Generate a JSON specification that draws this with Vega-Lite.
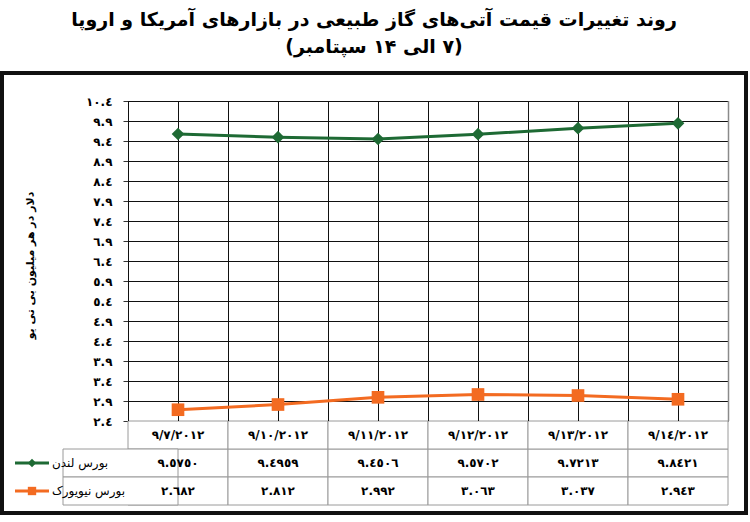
{
  "$schema": "https://vega.github.io/schema/vega-lite/v6.json",
  "width": 744,
  "height": 440,
  "autosize": {"type": "none"},
  "padding": {"left": 2, "top": 73, "right": 4, "bottom": 9},
  "background": "white",
  "view": {"stroke": "#111111", "strokeWidth": 4, "fill": "white"},
  "config": {"font": "DejaVu Sans"},
  "title": {
    "text": ["روند تغییرات قیمت آتی‌های گاز طبیعی در بازارهای آمریکا و اروپا", "\u200F(۷ الی ۱۴ سپتامبر)\u200F"],
    "font": "DejaVu Sans",
    "fontSize": 19,
    "fontWeight": "bold",
    "color": "#000000",
    "anchor": "middle",
    "frame": "group",
    "offset": 16,
    "lineHeight": 27
  },
  "data": {
    "values": [
      {"date": "٩/٧/٢٠١٢", "series": "بورس لندن", "value": 9.575, "label": "٩.٥٧٥٠"},
      {"date": "٩/١٠/٢٠١٢", "series": "بورس لندن", "value": 9.4959, "label": "٩.٤٩٥٩"},
      {"date": "٩/١١/٢٠١٢", "series": "بورس لندن", "value": 9.4506, "label": "٩.٤٥٠٦"},
      {"date": "٩/١٢/٢٠١٢", "series": "بورس لندن", "value": 9.5702, "label": "٩.٥٧٠٢"},
      {"date": "٩/١٣/٢٠١٢", "series": "بورس لندن", "value": 9.7213, "label": "٩.٧٢١٣"},
      {"date": "٩/١٤/٢٠١٢", "series": "بورس لندن", "value": 9.8421, "label": "٩.٨٤٢١"},
      {"date": "٩/٧/٢٠١٢", "series": "بورس نیویورک", "value": 2.682, "label": "٢.٦٨٢"},
      {"date": "٩/١٠/٢٠١٢", "series": "بورس نیویورک", "value": 2.812, "label": "٢.٨١٢"},
      {"date": "٩/١١/٢٠١٢", "series": "بورس نیویورک", "value": 2.992, "label": "٢.٩٩٢"},
      {"date": "٩/١٢/٢٠١٢", "series": "بورس نیویورک", "value": 3.063, "label": "٣.٠٦٣"},
      {"date": "٩/١٣/٢٠١٢", "series": "بورس نیویورک", "value": 3.037, "label": "٣.٠٣٧"},
      {"date": "٩/١٤/٢٠١٢", "series": "بورس نیویورک", "value": 2.943, "label": "٢.٩٤٣"}
    ]
  },
  "resolve": {"scale": {"x": "independent", "y": "independent"}},
  "layer": [
    {
      "mark": {"type": "rect", "fill": "white", "stroke": "#9a9a9a", "strokeWidth": 1},
      "encoding": {
        "x": {"field": "date", "type": "nominal", "axis": null, "scale": {"type": "band", "domain": ["label", "٩/٧/٢٠١٢", "٩/١٠/٢٠١٢", "٩/١١/٢٠١٢", "٩/١٢/٢٠١٢", "٩/١٣/٢٠١٢", "٩/١٤/٢٠١٢"], "range": [26, 726], "paddingInner": 0, "paddingOuter": 0}},
        "y": {"field": "series", "type": "nominal", "axis": null, "scale": {"type": "band", "domain": ["date", "بورس لندن", "بورس نیویورک"], "range": [348, 432], "paddingInner": 0, "paddingOuter": 0}}
      }
    },
    {
      "transform": [{"filter": "datum.series === 'بورس لندن'"}],
      "mark": {"type": "rect", "fill": "white", "stroke": "#9a9a9a", "strokeWidth": 1},
      "encoding": {
        "x": {"field": "date", "type": "nominal", "axis": null, "scale": {"type": "band", "domain": ["label", "٩/٧/٢٠١٢", "٩/١٠/٢٠١٢", "٩/١١/٢٠١٢", "٩/١٢/٢٠١٢", "٩/١٣/٢٠١٢", "٩/١٤/٢٠١٢"], "range": [26, 726], "paddingInner": 0, "paddingOuter": 0}},
        "y": {"datum": "date", "type": "nominal", "axis": null, "scale": {"type": "band", "domain": ["date", "بورس لندن", "بورس نیویورک"], "range": [348, 432], "paddingInner": 0, "paddingOuter": 0}}
      }
    },
    {
      "transform": [{"filter": "datum.date === '٩/٧/٢٠١٢'"}],
      "mark": {"type": "rect", "fill": "white", "stroke": "#9a9a9a", "strokeWidth": 1, "xOffset": -15},
      "encoding": {
        "x": {"datum": "label", "type": "nominal", "axis": null, "scale": {"type": "band", "domain": ["label", "٩/٧/٢٠١٢", "٩/١٠/٢٠١٢", "٩/١١/٢٠١٢", "٩/١٢/٢٠١٢", "٩/١٣/٢٠١٢", "٩/١٤/٢٠١٢"], "range": [26, 726], "paddingInner": 0, "paddingOuter": 0}},
        "x2": {"datum": "٩/٧/٢٠١٢"},
        "y": {"field": "series", "type": "nominal", "axis": null, "scale": {"type": "band", "domain": ["date", "بورس لندن", "بورس نیویورک"], "range": [348, 432], "paddingInner": 0, "paddingOuter": 0}}
      }
    },
    {
      "mark": {"type": "text", "font": "DejaVu Sans", "fontSize": 12, "fontWeight": "bold", "color": "#000000"},
      "encoding": {
        "x": {"field": "date", "type": "nominal", "axis": null, "scale": {"type": "band", "domain": ["label", "٩/٧/٢٠١٢", "٩/١٠/٢٠١٢", "٩/١١/٢٠١٢", "٩/١٢/٢٠١٢", "٩/١٣/٢٠١٢", "٩/١٤/٢٠١٢"], "range": [26, 726], "paddingInner": 0, "paddingOuter": 0}},
        "y": {"field": "series", "type": "nominal", "axis": null, "scale": {"type": "band", "domain": ["date", "بورس لندن", "بورس نیویورک"], "range": [348, 432], "paddingInner": 0, "paddingOuter": 0}},
        "text": {"field": "label"}
      }
    },
    {
      "transform": [{"filter": "datum.series === 'بورس لندن'"}],
      "mark": {"type": "text", "font": "DejaVu Sans", "fontSize": 12, "fontWeight": "bold", "color": "#000000"},
      "encoding": {
        "x": {"field": "date", "type": "nominal", "axis": null, "scale": {"type": "band", "domain": ["label", "٩/٧/٢٠١٢", "٩/١٠/٢٠١٢", "٩/١١/٢٠١٢", "٩/١٢/٢٠١٢", "٩/١٣/٢٠١٢", "٩/١٤/٢٠١٢"], "range": [26, 726], "paddingInner": 0, "paddingOuter": 0}},
        "y": {"datum": "date", "type": "nominal", "axis": null, "scale": {"type": "band", "domain": ["date", "بورس لندن", "بورس نیویورک"], "range": [348, 432], "paddingInner": 0, "paddingOuter": 0}},
        "text": {"field": "date"}
      }
    },
    {
      "transform": [{"filter": "datum.date === '٩/٧/٢٠١٢'"}],
      "mark": {"type": "text", "font": "DejaVu Sans", "fontSize": 12, "color": "#000000", "align": "left", "dx": -26},
      "encoding": {
        "x": {"datum": "label", "type": "nominal", "axis": null, "scale": {"type": "band", "domain": ["label", "٩/٧/٢٠١٢", "٩/١٠/٢٠١٢", "٩/١١/٢٠١٢", "٩/١٢/٢٠١٢", "٩/١٣/٢٠١٢", "٩/١٤/٢٠١٢"], "range": [26, 726], "paddingInner": 0, "paddingOuter": 0}},
        "y": {"field": "series", "type": "nominal", "axis": null, "scale": {"type": "band", "domain": ["date", "بورس لندن", "بورس نیویورک"], "range": [348, 432], "paddingInner": 0, "paddingOuter": 0}},
        "text": {"field": "series"}
      }
    },
    {
      "transform": [{"filter": "datum.date === '٩/٧/٢٠١٢'"}],
      "mark": {"type": "rule", "strokeWidth": 3, "xOffset": -63, "x2Offset": -29},
      "encoding": {
        "x": {"datum": "label", "type": "nominal", "axis": null, "scale": {"type": "band", "domain": ["label", "٩/٧/٢٠١٢", "٩/١٠/٢٠١٢", "٩/١١/٢٠١٢", "٩/١٢/٢٠١٢", "٩/١٣/٢٠١٢", "٩/١٤/٢٠١٢"], "range": [26, 726], "paddingInner": 0, "paddingOuter": 0}},
        "x2": {"datum": "label"},
        "y": {"field": "series", "type": "nominal", "axis": null, "scale": {"type": "band", "domain": ["date", "بورس لندن", "بورس نیویورک"], "range": [348, 432], "paddingInner": 0, "paddingOuter": 0}},
        "color": {"field": "series", "type": "nominal", "legend": null, "scale": {"domain": ["بورس لندن", "بورس نیویورک"], "range": ["#1e6a34", "#f36b21"]}}
      }
    },
    {
      "transform": [{"filter": "datum.date === '٩/٧/٢٠١٢'"}],
      "mark": {"type": "point", "filled": true, "opacity": 1, "size": 70, "xOffset": -46},
      "encoding": {
        "x": {"datum": "label", "type": "nominal", "axis": null, "scale": {"type": "band", "domain": ["label", "٩/٧/٢٠١٢", "٩/١٠/٢٠١٢", "٩/١١/٢٠١٢", "٩/١٢/٢٠١٢", "٩/١٣/٢٠١٢", "٩/١٤/٢٠١٢"], "range": [26, 726], "paddingInner": 0, "paddingOuter": 0}},
        "y": {"field": "series", "type": "nominal", "axis": null, "scale": {"type": "band", "domain": ["date", "بورس لندن", "بورس نیویورک"], "range": [348, 432], "paddingInner": 0, "paddingOuter": 0}},
        "color": {"field": "series", "type": "nominal", "legend": null, "scale": {"domain": ["بورس لندن", "بورس نیویورک"], "range": ["#1e6a34", "#f36b21"]}},
        "shape": {"field": "series", "type": "nominal", "legend": null, "scale": {"domain": ["بورس لندن", "بورس نیویورک"], "range": ["diamond", "square"]}}
      }
    },
    {
      "transform": [{"filter": "datum.series === 'بورس لندن'"}],
      "mark": {"type": "rule", "color": "#111111", "strokeWidth": 1, "xOffset": 0.5},
      "encoding": {
        "x": {"field": "date", "type": "nominal", "axis": null, "scale": {"type": "band", "domain": ["٩/٧/٢٠١٢", "٩/١٠/٢٠١٢", "٩/١١/٢٠١٢", "٩/١٢/٢٠١٢", "٩/١٣/٢٠١٢", "٩/١٤/٢٠١٢"], "range": [126, 726], "paddingInner": 0, "paddingOuter": 0}},
        "y": {"datum": 2.4, "type": "quantitative", "axis": null, "scale": {"domain": [2.4, 10.4], "range": [348, 28], "nice": false, "zero": false}},
        "y2": {"datum": 10.4}
      }
    },
    {
      "transform": [{"filter": "datum.series === 'بورس لندن'"}],
      "mark": {"type": "rule", "color": "#111111", "strokeWidth": 1, "xOffset": -49.5},
      "encoding": {
        "x": {"field": "date", "type": "nominal", "axis": null, "scale": {"type": "band", "domain": ["٩/٧/٢٠١٢", "٩/١٠/٢٠١٢", "٩/١١/٢٠١٢", "٩/١٢/٢٠١٢", "٩/١٣/٢٠١٢", "٩/١٤/٢٠١٢"], "range": [126, 726], "paddingInner": 0, "paddingOuter": 0}},
        "y": {"datum": 2.4, "type": "quantitative", "axis": null, "scale": {"domain": [2.4, 10.4], "range": [348, 28], "nice": false, "zero": false}},
        "y2": {"datum": 10.4}
      }
    },
    {
      "transform": [{"filter": "datum.series === 'بورس لندن' && datum.date === '٩/١٤/٢٠١٢'"}],
      "mark": {"type": "rule", "color": "#8a8a8a", "strokeWidth": 1.5, "xOffset": 50.5},
      "encoding": {
        "x": {"field": "date", "type": "nominal", "axis": null, "scale": {"type": "band", "domain": ["٩/٧/٢٠١٢", "٩/١٠/٢٠١٢", "٩/١١/٢٠١٢", "٩/١٢/٢٠١٢", "٩/١٣/٢٠١٢", "٩/١٤/٢٠١٢"], "range": [126, 726], "paddingInner": 0, "paddingOuter": 0}},
        "y": {"datum": 2.4, "type": "quantitative", "axis": null, "scale": {"domain": [2.4, 10.4], "range": [348, 28], "nice": false, "zero": false}},
        "y2": {"datum": 10.4}
      }
    },
    {
      "mark": {"type": "line", "strokeWidth": 3},
      "encoding": {
        "x": {"field": "date", "type": "nominal", "axis": null, "scale": {"type": "band", "domain": ["٩/٧/٢٠١٢", "٩/١٠/٢٠١٢", "٩/١١/٢٠١٢", "٩/١٢/٢٠١٢", "٩/١٣/٢٠١٢", "٩/١٤/٢٠١٢"], "range": [126, 726], "paddingInner": 0, "paddingOuter": 0}},
        "y": {"field": "value", "type": "quantitative", "scale": {"domain": [2.4, 10.4], "range": [348, 28], "nice": false, "zero": false},
          "axis": {"orient": "left", "offset": -126, "values": [2.4, 2.9, 3.4, 3.9, 4.4, 4.9, 5.4, 5.9, 6.4, 6.9, 7.4, 7.9, 8.4, 8.9, 9.4, 9.9, 10.4], "format": ".1f",
            "labelExpr": "replace(replace(replace(replace(replace(replace(replace(replace(replace(replace(datum.label,regexp('0','g'),'٠'),regexp('1','g'),'١'),regexp('2','g'),'٢'),regexp('3','g'),'٣'),regexp('4','g'),'٤'),regexp('5','g'),'٥'),regexp('6','g'),'٦'),regexp('7','g'),'٧'),regexp('8','g'),'٨'),regexp('9','g'),'٩')",
            "grid": true, "gridColor": "#111111", "gridWidth": 1, "domainColor": "#333333", "tickColor": "#333333", "tickSize": 5, "labelPadding": 11, "labelFont": "DejaVu Sans", "labelFontSize": 12, "labelFontWeight": "bold", "labelColor": "#000000",
            "title": "دلار در هر میلیون بی تی یو", "titleFont": "DejaVu Sans", "titleFontSize": 11, "titleFontWeight": "bold", "titleColor": "#000000", "titleX": -93, "titleY": 192}},
        "color": {"field": "series", "type": "nominal", "legend": null, "scale": {"domain": ["بورس لندن", "بورس نیویورک"], "range": ["#1e6a34", "#f36b21"]}}
      }
    },
    {
      "mark": {"type": "point", "filled": true, "opacity": 1, "size": 160},
      "encoding": {
        "x": {"field": "date", "type": "nominal", "axis": null, "scale": {"type": "band", "domain": ["٩/٧/٢٠١٢", "٩/١٠/٢٠١٢", "٩/١١/٢٠١٢", "٩/١٢/٢٠١٢", "٩/١٣/٢٠١٢", "٩/١٤/٢٠١٢"], "range": [126, 726], "paddingInner": 0, "paddingOuter": 0}},
        "y": {"field": "value", "type": "quantitative", "axis": null, "scale": {"domain": [2.4, 10.4], "range": [348, 28], "nice": false, "zero": false}},
        "color": {"field": "series", "type": "nominal", "legend": null, "scale": {"domain": ["بورس لندن", "بورس نیویورک"], "range": ["#1e6a34", "#f36b21"]}},
        "shape": {"field": "series", "type": "nominal", "legend": null, "scale": {"domain": ["بورس لندن", "بورس نیویورک"], "range": ["diamond", "square"]}}
      }
    }
  ]
}
